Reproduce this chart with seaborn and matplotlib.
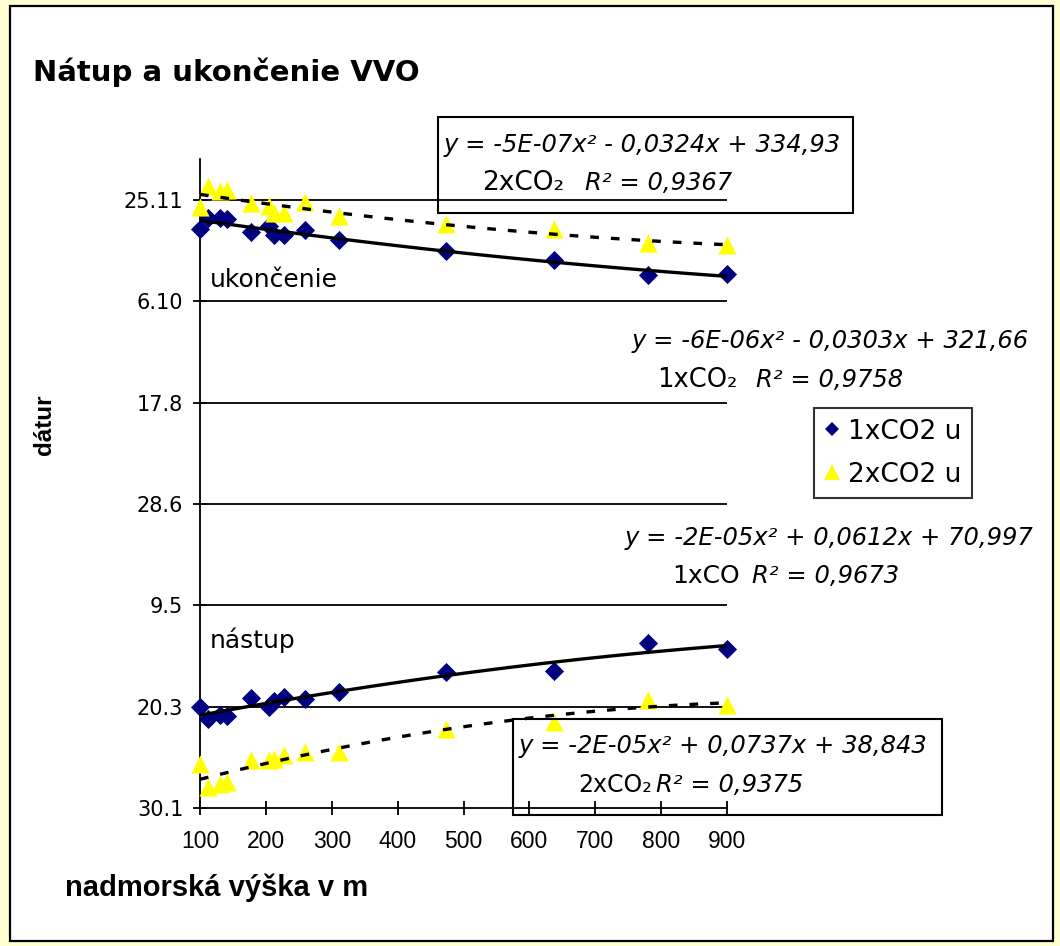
import matplotlib
matplotlib.use("Agg")
import matplotlib.pyplot as plt
import matplotlib.patches as mpatches
from matplotlib.lines import Line2D
from matplotlib import font_manager
import numpy as np
import pandas as pd
import seaborn as sns

# ---------------- data ----------------
altitude = [100, 112, 130, 141, 178, 205, 213, 228, 260, 311, 473, 638, 780, 900]

# day of year (leap-year day numbers)
end_1x = [315.6, 321.1, 321.1, 320.6, 314.2, 317.1, 312.7, 312.7, 315.2, 310.2, 304.8, 300.4, 293.0, 293.4]
end_2x = [326.5, 336.9, 334.4, 334.9, 328.5, 327.0, 323.5, 323.5, 329.0, 322.1, 318.1, 315.6, 308.7, 307.7]
start_1x = [79.8, 73.9, 75.9, 75.4, 84.3, 79.8, 82.8, 84.8, 83.8, 87.2, 97.1, 97.6, 111.4, 108.4]
start_2x = [51.7, 40.4, 41.8, 42.8, 53.7, 53.5, 54.2, 56.1, 57.6, 57.6, 69.0, 72.4, 83.3, 80.8]

y_ticks = [30, 80, 130, 180, 230, 280, 330]
y_tick_labels = ["30.1", "20.3", "9.5", "28.6", "17.8", "6.10", "25.11"]
x_ticks = [100, 200, 300, 400, 500, 600, 700, 800, 900]

series_names = ["1xCO2 u", "2xCO2 u"]

eq_end_2x = "y = -5E-07x² - 0,0324x + 334,93"
r2_end_2x = "R² = 0,9367"
eq_end_1x = "y = -6E-06x² - 0,0303x + 321,66"
r2_end_1x = "R² = 0,9758"
eq_start_1x = "y = -2E-05x² + 0,0612x + 70,997"
r2_start_1x = "R² = 0,9673"
eq_start_2x = "y = -2E-05x² + 0,0737x + 38,843"
r2_start_2x = "R² = 0,9375"

rows = []
for alt, a, b, c, d in zip(altitude, end_1x, end_2x, start_1x, start_2x):
    rows.append((alt, a, "1xCO2 u", "ukončenie"))
    rows.append((alt, b, "2xCO2 u", "ukončenie"))
    rows.append((alt, c, "1xCO2 u", "nástup"))
    rows.append((alt, d, "2xCO2 u", "nástup"))
df = pd.DataFrame(rows, columns=["alt", "day", "scen", "phase"])

# ---------------- figure ----------------
sns.set_style("white")
plt.rcParams["font.family"] = ["DejaVu Sans"]
for k in ["text.color", "axes.labelcolor", "xtick.color", "ytick.color", "axes.edgecolor"]:
    plt.rcParams[k] = "black"

def has_font(name):
    try:
        font_manager.findfont(font_manager.FontProperties(family=name), fallback_to_default=False)
        return True
    except Exception:
        return False

NARROW = ["Liberation Sans Narrow"] if has_font("Liberation Sans Narrow") else ["Liberation Sans"]

W, H = 1060, 946
fig = plt.figure(figsize=(W / 100, H / 100), dpi=100)
fig.patch.set_facecolor("#FFFFD2")

def fx(px):
    return px / W

def fy(py):
    return 1 - py / H

# white inner panel with black frame
fig.patches.append(mpatches.Rectangle((fx(10), fy(941)), fx(1053) - fx(10), fy(6) - fy(941),
                                      transform=fig.transFigure, facecolor="white",
                                      edgecolor="black", linewidth=1.6, zorder=-5))

ax_left, ax_right = 200, 727
ax_bottom_px = 808
px_per_day = 2.027
ax_top_px = ax_bottom_px - (350 - 30) * px_per_day
ax = fig.add_axes([fx(ax_left), fy(ax_bottom_px), fx(ax_right) - fx(ax_left),
                   fy(ax_top_px) - fy(ax_bottom_px)])
ax.set_facecolor("none")
ax.set_zorder(2)

palette = {"1xCO2 u": "#000080", "2xCO2 u": "#FFFF00"}
markers = {"1xCO2 u": "D", "2xCO2 u": "^"}
msize = {"1xCO2 u": 95, "2xCO2 u": 170}
lstyle = {"1xCO2 u": "-", "2xCO2 u": (0, (2.6, 3.6))}

for phase in ["ukončenie", "nástup"]:
    sub = df[df.phase == phase]
    for scen in series_names:
        s2 = sub[sub.scen == scen]
        sns.scatterplot(data=s2, x="alt", y="day", color=palette[scen],
                        marker=markers[scen], s=msize[scen], linewidth=0,
                        legend=False, ax=ax, zorder=3, clip_on=False)
    for scen in series_names:
        s2 = sub[sub.scen == scen]
        sns.regplot(data=s2, x="alt", y="day", order=2, ci=None, scatter=False,
                    ax=ax, truncate=True,
                    line_kws=dict(color="black", linewidth=2.4, linestyle=lstyle[scen], zorder=4))

ax.set_xlim(100, 900)
ax.set_ylim(30, 350)
ax.set_xticks(x_ticks)
ax.set_xticklabels([str(v) for v in x_ticks], fontdict=dict(family=NARROW, size=16.5))
ax.set_yticks(y_ticks)
ax.set_yticklabels(y_tick_labels, fontsize=15)
ax.tick_params(axis="both", direction="inout", length=10, width=1.3, color="black",
               bottom=True, left=True)
ax.tick_params(axis="y", pad=7)
ax.tick_params(axis="x", pad=11)
for t in y_ticks[1:]:
    ax.axhline(t, color="black", linewidth=1.3, zorder=1)
for side in ["top", "right"]:
    ax.spines[side].set_visible(False)
for side in ["left", "bottom"]:
    ax.spines[side].set_color("black")
    ax.spines[side].set_linewidth(1.3)
ax.set_xlabel("")
ax.set_ylabel("")

# ---------------- texts ----------------
fig.text(fx(33), fy(72), "Nátup a ukončenie VVO", fontsize=21, fontweight="bold",
         family=["DejaVu Sans"], va="center", ha="left")
fig.text(fx(45), fy(425), "dátur", fontsize=17.5, fontweight="bold", rotation=90,
         family=NARROW, va="center", ha="center")
fig.text(fx(65), fy(888), "nadmorská výška v m", fontsize=21, fontweight="bold",
         family=NARROW, va="center", ha="left")

fig.text(fx(210), fy(280), "ukončenie", fontsize=18, family=["DejaVu Sans"],
         va="center", ha="left")
fig.text(fx(210), fy(640), "nástup", fontsize=18, family=["DejaVu Sans"],
         va="center", ha="left")

eq_fs = 17.5
fam = ["DejaVu Sans"]

def eq_block(x_eq, y_eq, eq, x_lab, y_lab, lab, x_r2, r2, lab_fs):
    fig.text(fx(x_eq), fy(y_eq), eq, fontsize=eq_fs, style="italic", family=fam,
             va="center", ha="left", zorder=6)
    fig.text(fx(x_lab), fy(y_lab), lab, fontsize=lab_fs, family=fam, va="center",
             ha="left", zorder=6)
    fig.text(fx(x_r2), fy(y_lab), r2, fontsize=eq_fs, style="italic", family=fam,
             va="center", ha="left", zorder=6)

# box 1 (ukončenie 2xCO2)
fig.patches.append(mpatches.Rectangle((fx(438), fy(213)), fx(853) - fx(438), fy(117) - fy(213),
                                      transform=fig.transFigure, facecolor="none",
                                      edgecolor="black", linewidth=1.5, zorder=5))
eq_block(444, 145, eq_end_2x, 482, 183, "2xCO₂", 585, r2_end_2x, 19)

eq_block(632, 341, eq_end_1x, 657, 380, "1xCO₂", 756, r2_end_1x, 18.5)
eq_block(625, 538, eq_start_1x, 672, 576, "1xCO", 752, r2_start_1x, 18)

# box 5 (nástup 2xCO2)
fig.patches.append(mpatches.Rectangle((fx(513), fy(815)), fx(942) - fx(513), fy(719) - fy(815),
                                      transform=fig.transFigure, facecolor="none",
                                      edgecolor="black", linewidth=1.5, zorder=5))
eq_block(519, 746, eq_start_2x, 578, 785, "2xCO₂", 656, r2_start_2x, 17)

# legend
handles = [Line2D([], [], marker="D", color="none", markerfacecolor=palette["1xCO2 u"],
                  markeredgewidth=0, markersize=7.5),
           Line2D([], [], marker="^", color="none", markerfacecolor=palette["2xCO2 u"],
                  markeredgewidth=0, markersize=11)]
leg = fig.legend(handles, series_names, loc="upper left",
                 bbox_to_anchor=(fx(814), fy(408)), frameon=True, fancybox=False,
                 edgecolor="black", fontsize=19, handlelength=0.6, handletextpad=0.3,
                 borderpad=0.4, labelspacing=0.65, borderaxespad=0)
leg.get_frame().set_linewidth(1.5)

fig.savefig("out.png", dpi=100, facecolor=fig.get_facecolor())
